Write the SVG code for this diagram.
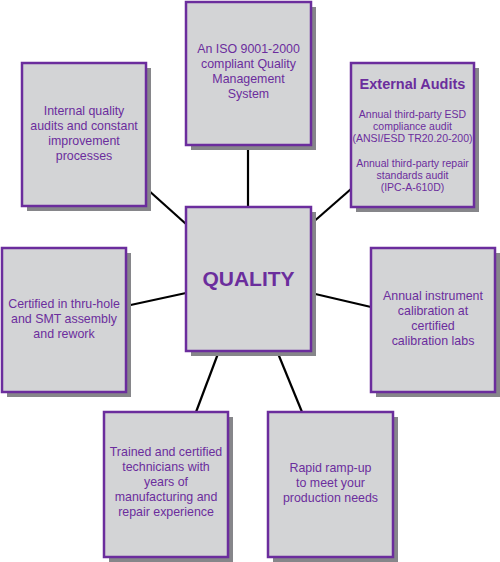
<svg xmlns="http://www.w3.org/2000/svg" width="500" height="562" viewBox="0 0 500 562">
<style>
.sh{fill:#86868a;}
.bx{fill:#d3d4d6;stroke:#6b2d9d;stroke-width:2.5;}
.t{font-family:"Liberation Sans",Arial,sans-serif;font-size:12.4px;fill:#6b2d9d;text-anchor:middle;}
.s{font-size:10.5px;}
.h{font-weight:bold;font-size:14.5px;}
.q{font-weight:bold;font-size:21px;}
.c{stroke:#000;stroke-width:2.2;fill:none;}
</style>
<rect width="500" height="562" fill="#fff"/>
<g id="connectors">
<line class="c" x1="147" y1="189" x2="186" y2="224"/>
<line class="c" x1="248" y1="145" x2="248" y2="207"/>
<line class="c" x1="351" y1="189" x2="311" y2="224"/>
<line class="c" x1="126" y1="306" x2="186" y2="293"/>
<line class="c" x1="311" y1="293" x2="371" y2="307"/>
<line class="c" x1="219" y1="351" x2="196" y2="412"/>
<line class="c" x1="277" y1="351" x2="302" y2="412"/>
</g>
<g id="internal">
<rect class="sh" x="27" y="68" width="124" height="143"/>
<rect class="bx" x="22" y="63" width="124" height="143"/>
<text class="t" x="84" y="115">Internal quality</text>
<text class="t" x="84" y="130">audits and constant</text>
<text class="t" x="84" y="145">improvement</text>
<text class="t" x="84" y="160">processes</text>
</g>
<g id="iso">
<rect class="sh" x="191" y="7" width="125" height="143"/>
<rect class="bx" x="186" y="2" width="125" height="143"/>
<text class="t" x="248.5" y="53">An ISO 9001-2000</text>
<text class="t" x="248.5" y="68">compliant Quality</text>
<text class="t" x="248.5" y="83">Management</text>
<text class="t" x="248.5" y="98">System</text>
</g>
<g id="external">
<rect class="sh" x="356" y="68" width="123" height="144"/>
<rect class="bx" x="351" y="63" width="123" height="144"/>
<text class="t h" x="412.5" y="89">External Audits</text>
<text class="t s" x="412.5" y="118">Annual third-party ESD</text>
<text class="t s" x="412.5" y="130">compliance audit</text>
<text class="t s" x="412.5" y="142">(ANSI/ESD TR20.20-200)</text>
<text class="t s" x="412.5" y="167">Annual third-party repair</text>
<text class="t s" x="412.5" y="179">standards audit</text>
<text class="t s" x="412.5" y="191">(IPC-A-610D)</text>
</g>
<g id="quality">
<rect class="sh" x="191" y="212" width="125" height="144"/>
<rect class="bx" x="186" y="207" width="125" height="144"/>
<text class="t q" x="248.5" y="286">QUALITY</text>
</g>
<g id="certified">
<rect class="sh" x="7" y="253" width="124" height="144"/>
<rect class="bx" x="2" y="248" width="124" height="144"/>
<text class="t" x="64" y="308">Certified in thru-hole</text>
<text class="t" x="64" y="323">and SMT assembly</text>
<text class="t" x="64" y="338">and rework</text>
</g>
<g id="calibration">
<rect class="sh" x="376" y="253" width="124" height="144"/>
<rect class="bx" x="371" y="248" width="124" height="144"/>
<text class="t" x="433" y="300">Annual instrument</text>
<text class="t" x="433" y="315">calibration at</text>
<text class="t" x="433" y="330">certified</text>
<text class="t" x="433" y="345">calibration labs</text>
</g>
<g id="trained">
<rect class="sh" x="109" y="417" width="124" height="145"/>
<rect class="bx" x="104" y="412" width="124" height="145"/>
<text class="t" x="166" y="456">Trained and certified</text>
<text class="t" x="166" y="471">technicians with</text>
<text class="t" x="166" y="486">years of</text>
<text class="t" x="166" y="501">manufacturing and</text>
<text class="t" x="166" y="516">repair experience</text>
</g>
<g id="rapid">
<rect class="sh" x="273" y="417" width="125" height="145"/>
<rect class="bx" x="268" y="412" width="125" height="145"/>
<text class="t" x="330.5" y="472">Rapid ramp-up</text>
<text class="t" x="330.5" y="487">to meet your</text>
<text class="t" x="330.5" y="502">production needs</text>
</g>
</svg>
